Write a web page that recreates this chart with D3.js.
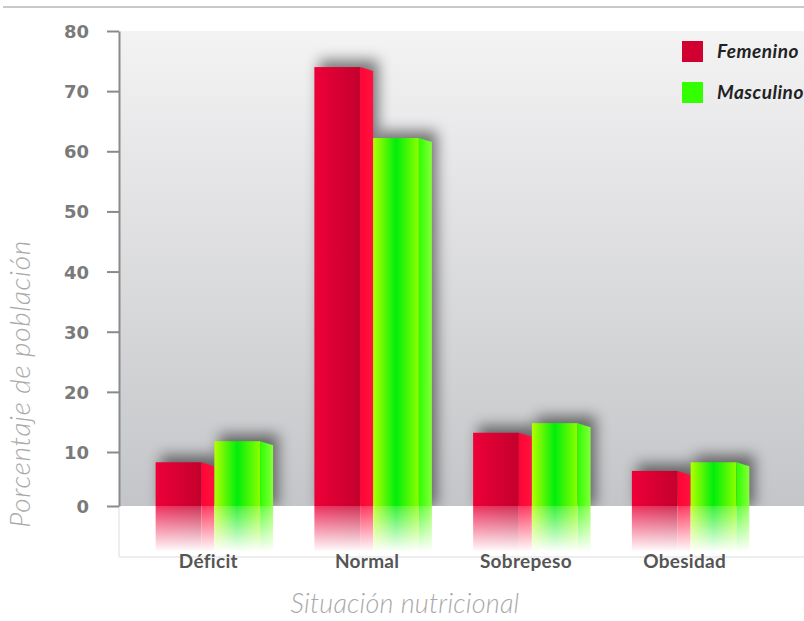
<!DOCTYPE html>
<html><head><meta charset="utf-8">
<script src="https://cdn.jsdelivr.net/npm/d3@7"></script>
<style>body{margin:0;background:#fff}svg{display:block}</style>
</head><body><svg id="chart" width="804" height="621"></svg>
<script>
// Situación nutricional por sexo (% de población)
const categories = ["Déficit", "Normal", "Sobrepeso", "Obesidad"];
const seriesNames = ["Femenino", "Masculino"];
const femenino = [8.1, 74.0, 13.2, 6.5];
const masculino = [11.8, 62.2, 14.8, 8.1];
const yTicks = [0, 10, 20, 30, 40, 50, 60, 70, 80];

const svg = d3.select("#chart");
const W = 804, H = 621;
const axisX = 119, floorY = 506, topY = 31, baseY = 557;
const fontStack = "Lato, 'Open Sans', 'DejaVu Sans', sans-serif";

// value scale: the floor band is slightly compressed (perspective)
const y = d3.scaleLinear().domain([0, 10, 80]).range([floorY, 452, topY]);
const x0 = d3.scaleBand().domain(categories).range([135, 770])
  .paddingInner(0.26).paddingOuter(0.13);
const x1 = d3.scaleBand().domain(seriesNames).range([0, x0.bandwidth()]);
const sideW = 13;
const reflH = 46;

const rows = categories.flatMap((c, i) => [
  { cat: c, s: "Femenino", v: femenino[i] },
  { cat: c, s: "Masculino", v: masculino[i] }
]);

const defs = svg.append("defs");
function lin(id, stops, attrs) {
  const g = defs.append("linearGradient").attr("id", id);
  Object.entries(attrs || {}).forEach(([k, v]) => g.attr(k, v));
  stops.forEach(([o, c, op]) => g.append("stop").attr("offset", o).attr("stop-color", c)
    .attr("stop-opacity", op == null ? 1 : op));
}
lin("bg", [[0, "#f3f3f4"], [1, "#c4c5c8"]], { x1: 0, y1: 0, x2: 0, y2: 1 });
lin("fFront", [[0, "#ee0038"], [1, "#c3002d"]]);
lin("fSide", [[0, "#ff0434"], [1, "#ff1240"]]);
lin("mFront", [[0, "#b4ff00"], [0.5, "#00ee0c"], [1, "#8cff00"]]);
lin("mSide", [[0, "#2cff00"], [1, "#86ff3a"]]);
lin("reflFade", [[0, "#fff", 0.8], [1, "#fff", 0]],
  { x1: 0, y1: floorY, x2: 0, y2: floorY + reflH, gradientUnits: "userSpaceOnUse" });
defs.append("mask").attr("id", "reflMask").append("rect")
  .attr("x", 0).attr("y", floorY).attr("width", W).attr("height", reflH)
  .attr("fill", "url(#reflFade)");
defs.append("filter").attr("id", "shadow").attr("x", "-50%").attr("y", "-50%")
  .attr("width", "200%").attr("height", "200%")
  .append("feGaussianBlur").attr("stdDeviation", 7);
defs.append("clipPath").attr("id", "plotClip").append("rect")
  .attr("x", axisX).attr("y", topY).attr("width", W - axisX).attr("height", floorY - topY);

// top rule
svg.append("line").attr("x1", 3).attr("x2", W).attr("y1", 7).attr("y2", 7)
  .attr("stroke", "#c9c9c9").attr("stroke-width", 2);

// back wall
svg.append("rect").attr("x", axisX).attr("y", topY).attr("width", W - axisX)
  .attr("height", floorY - topY).attr("fill", "url(#bg)");

// floor lines
svg.append("line").attr("x1", axisX).attr("x2", W).attr("y1", baseY).attr("y2", baseY)
  .attr("stroke", "#dcdcdc").attr("stroke-width", 1);
svg.append("line").attr("x1", axisX).attr("x2", axisX).attr("y1", floorY).attr("y2", baseY)
  .attr("stroke", "#dcdcdc").attr("stroke-width", 1);

const fills = { Femenino: ["url(#fFront)", "url(#fSide)"], Masculino: ["url(#mFront)", "url(#mSide)"] };

// soft shadows behind the bars
svg.append("g").attr("clip-path", "url(#plotClip)").selectAll("rect").data(rows).join("rect")
  .attr("x", d => x0(d.cat) + x1(d.s) + 5)
  .attr("y", d => y(d.v) - 7)
  .attr("width", x1.bandwidth())
  .attr("height", d => floorY - y(d.v) + 7)
  .attr("fill", "#000").attr("opacity", 0.5).attr("filter", "url(#shadow)");

// floor reflections (faded strip below each bar)
const refl = svg.append("g").attr("mask", "url(#reflMask)");
const rb = refl.selectAll("g").data(rows).join("g");
rb.append("rect")
  .attr("x", d => x0(d.cat) + x1(d.s)).attr("y", floorY)
  .attr("width", x1.bandwidth() - sideW).attr("height", reflH)
  .attr("fill", d => fills[d.s][0]);
rb.append("rect")
  .attr("x", d => x0(d.cat) + x1(d.s) + x1.bandwidth() - sideW).attr("y", floorY)
  .attr("width", sideW).attr("height", reflH)
  .attr("fill", d => fills[d.s][1]);

// bars: front face + slanted side face
const b = svg.append("g").selectAll("g").data(rows).join("g");
b.append("rect")
  .attr("x", d => x0(d.cat) + x1(d.s))
  .attr("y", d => y(d.v))
  .attr("width", x1.bandwidth() - sideW)
  .attr("height", d => floorY - y(d.v))
  .attr("fill", d => fills[d.s][0]);
b.append("path")
  .attr("d", d => {
    const xl = x0(d.cat) + x1(d.s) + x1.bandwidth() - sideW;
    const xr = xl + sideW, t = y(d.v);
    return `M${xl},${t}L${xr},${t + 4}L${xr},${floorY}L${xl},${floorY}Z`;
  })
  .attr("fill", d => fills[d.s][1]);

// value axis
const yAxis = svg.append("g").attr("transform", `translate(${axisX},0)`)
  .call(d3.axisLeft(y).tickValues(yTicks).tickSize(12).tickPadding(18).tickSizeOuter(0));
yAxis.select(".domain").attr("stroke", "#8a8a8a").attr("stroke-width", 2);
yAxis.selectAll(".tick line").attr("stroke", "#8a8a8a").attr("stroke-width", 2);
yAxis.selectAll(".tick text").attr("fill", "#7a7a7a")
  .style("font", "bold 18px 'DejaVu Sans', sans-serif").attr("dy", "0.36em");

// category labels
svg.append("g").selectAll("text").data(categories).join("text")
  .attr("x", d => x0(d) + x0.bandwidth() / 2 - 6)
  .attr("y", 568).attr("text-anchor", "middle")
  .attr("fill", "#555").style("font", `bold 19px ${fontStack}`)
  .style("letter-spacing", "0.3px")
  .text(d => d);

// axis titles
svg.append("text").attr("x", 405).attr("y", 613).attr("text-anchor", "middle")
  .attr("fill", "#a9a9a9").style("font", `italic 300 27px ${fontStack}`)
  .style("letter-spacing", "0.2px")
  .text("Situación nutricional");
svg.append("text").attr("transform", "translate(30,384) rotate(-90)")
  .attr("text-anchor", "middle")
  .attr("fill", "#a9a9a9").style("font", `italic 300 28px ${fontStack}`)
  .style("letter-spacing", "0.7px")
  .text("Porcentaje de población");

// legend
const legendColors = { Femenino: "#d00030", Masculino: "#33ff00" };
const lg = svg.append("g").selectAll("g").data(seriesNames).join("g")
  .attr("transform", (d, i) => `translate(682,${41 + i * 41})`);
lg.append("rect").attr("width", 21).attr("height", 21).attr("fill", d => legendColors[d]);
lg.append("text").attr("x", 35).attr("y", 17).attr("fill", "#222")
  .style("font", `italic bold 19px ${fontStack}`).style("letter-spacing", "0.5px")
  .text(d => d);
</script></body></html>
